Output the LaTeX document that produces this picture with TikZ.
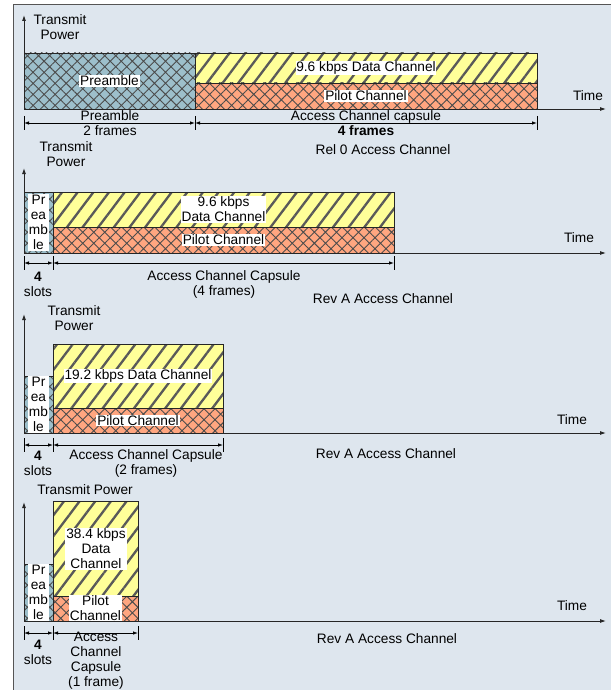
\documentclass[tikz,border=0pt]{standalone}
\usepackage{fontspec}
\setmainfont{Liberation Sans}
\usetikzlibrary{arrows.meta,patterns.meta}

\definecolor{panelbg}{HTML}{DEE6EE}
\definecolor{framegray}{HTML}{555555}
\definecolor{preblue}{HTML}{9DBFCB}
\definecolor{datayellow}{HTML}{FFFF99}
\definecolor{pilotsalmon}{HTML}{FFA680}

\begin{document}
\begin{tikzpicture}[
  x=1pt, y=-1pt,
  font=\fontsize{13.7}{15}\selectfont,
  box/.style={draw=black!85, line width=0.8pt, inner sep=0pt, outer sep=0pt, anchor=north west},
  prebox/.style={box, preaction={fill=preblue}, pattern={Hatch[angle=45,distance=7.8pt,line width=0.9pt]}, pattern color=black!70},
  databox/.style={box, preaction={fill=datayellow}, pattern={Lines[angle=53,distance=12.5pt,line width=2.3pt]}, pattern color=black!65},
  pilotbox/.style={box, preaction={fill=pilotsalmon}, pattern={Hatch[angle=45,distance=7.8pt,line width=0.9pt]}, pattern color=black!70},
  lbl/.style={fill=white, inner sep=0.8pt, align=center},
  txt/.style={align=center, inner sep=0pt},
  axis/.style={-{Latex[length=6pt,width=4pt]}, line width=0.9pt, draw=black!85},
  dim/.style={{Latex[length=5pt,width=3.5pt]}-{Latex[length=5pt,width=3.5pt]}, line width=0.8pt},
  dimtick/.style={line width=0.8pt}
]

\useasboundingbox (0,0) rectangle (610,690);
\fill[white] (0,0) rectangle (610,690);
\draw[draw=framegray, fill=panelbg, line width=1pt] (13,5) rectangle (620,700);

% Rel 0
\node[prebox, minimum width=171, minimum height=56] (pre1) at (24,53) {};
\node[databox, minimum width=342, minimum height=30] (data1) at (195,53) {};
\node[pilotbox, minimum width=342, minimum height=26] (pilot1) at (195,83) {};
\node[lbl] (prelbl1) at (pre1.center) {Preamble};
\node[lbl] (datalbl1) at (data1.center) {9.6 kbps Data Channel};
\node[lbl] (pilotlbl1) at (pilot1.center) {Pilot Channel};

\coordinate (o1) at (24,109);
\coordinate (ytop1) at (24,15);
\coordinate (xend1) at (606,109);
\draw[axis] (o1) -- (ytop1);
\draw[axis] (o1) -- (xend1);
\node[txt] (ylbl1) at (60,27) {Transmit\\Power};
\node[txt] (tlbl1) at (588,96) {Time};

\coordinate (d1a) at (24,123);
\coordinate (d1b) at (195,123);
\coordinate (d1c) at (537,123);
\draw[dimtick] (24,116) -- (24,130);
\draw[dimtick] (195,116) -- (195,130);
\draw[dimtick] (537,116) -- (537,130);
\draw[dim] (d1a) -- (d1b);
\draw[dim] (d1b) -- (d1c);
\node[txt] (dlbl1a) at (110,123) {Preamble\\2 frames};
\node[txt] (dlbl1b) at (366,123) {Access Channel capsule\\\textbf{4 frames}};
\node[txt] (cap1) at (383,150) {Rel 0 Access Channel};

% Rev A, 4 frames
\node[prebox, minimum width=29, minimum height=61] (pre2) at (24,192) {};
\node[databox, minimum width=341, minimum height=35] (data2) at (53,192) {};
\node[pilotbox, minimum width=341, minimum height=26] (pilot2) at (53,227) {};
\node[lbl] (prelbl2) at (pre2.center) {Pr\\ea\\mb\\le};
\node[lbl] (datalbl2) at (data2.center) {9.6 kbps\\Data Channel};
\node[lbl] (pilotlbl2) at (pilot2.center) {Pilot Channel};

\coordinate (o2) at (24,253);
\coordinate (ytop2) at (24,168);
\coordinate (xend2) at (606,253);
\draw[axis] (o2) -- (ytop2);
\draw[axis] (o2) -- (xend2);
\node[txt] (ylbl2) at (66,154) {Transmit\\Power};
\node[txt] (tlbl2) at (579,238) {Time};

\coordinate (d2a) at (24,263);
\coordinate (d2b) at (53,263);
\coordinate (d2c) at (394,263);
\draw[dimtick] (24,256) -- (24,270);
\draw[dimtick] (53,256) -- (53,270);
\draw[dimtick] (394,256) -- (394,270);
\draw[dim] (d2a) -- (d2b);
\draw[dim] (d2b) -- (d2c);
\node[txt] (dlbl2a) at (38,284) {\textbf{4}\\slots};
\node[txt] (dlbl2b) at (224,284) {Access Channel Capsule\\(4 frames)};
\node[txt] (cap2) at (383,299) {Rev A Access Channel};

% Rev A, 2 frames
\node[prebox, minimum width=29, minimum height=57] (pre3) at (24,376) {};
\node[databox, minimum width=170, minimum height=64] (data3) at (53,344) {};
\node[pilotbox, minimum width=170, minimum height=25] (pilot3) at (53,408) {};
\node[lbl] (prelbl3) at (pre3.center) {Pr\\ea\\mb\\le};
\node[lbl] (datalbl3) at (138,376) {19.2 kbps Data Channel};
\node[lbl] (pilotlbl3) at (pilot3.center) {Pilot Channel};

\coordinate (o3) at (24,433);
\coordinate (ytop3) at (24,314);
\coordinate (xend3) at (606,433);
\draw[axis] (o3) -- (ytop3);
\draw[axis] (o3) -- (xend3);
\node[txt] (ylbl3) at (74,318) {Transmit\\Power};
\node[txt] (tlbl3) at (572,420) {Time};

\coordinate (d3a) at (24,445);
\coordinate (d3b) at (53,445);
\coordinate (d3c) at (223,445);
\draw[dimtick] (24,438) -- (24,452);
\draw[dimtick] (53,438) -- (53,452);
\draw[dimtick] (223,438) -- (223,452);
\draw[dim] (d3a) -- (d3b);
\draw[dim] (d3b) -- (d3c);
\node[txt] (dlbl3a) at (38,463) {\textbf{4}\\slots};
\node[txt] (dlbl3b) at (146,463) {Access Channel Capsule\\(2 frames)};
\node[txt] (cap3) at (386,454) {Rev A Access Channel};

% Rev A, 1 frame
\node[prebox, minimum width=29, minimum height=57] (pre4) at (24,564) {};
\node[databox, minimum width=85, minimum height=95] (data4) at (53,501) {};
\node[pilotbox, minimum width=85, minimum height=25] (pilot4) at (53,596) {};
\node[lbl] (prelbl4) at (pre4.center) {Pr\\ea\\mb\\le};
\node[lbl] (datalbl4) at (96,549) {38.4 kbps\\Data\\Channel};
\node[lbl] (pilotlbl4) at (pilot4.center) {Pilot\\Channel};

\coordinate (o4) at (24,621);
\coordinate (ytop4) at (24,502);
\coordinate (xend4) at (606,621);
\draw[axis] (o4) -- (ytop4);
\draw[axis] (o4) -- (xend4);
\node[txt] (ylbl4) at (85,490) {Transmit Power};
\node[txt] (tlbl4) at (572,606) {Time};

\coordinate (d4a) at (24,633);
\coordinate (d4b) at (53,633);
\coordinate (d4c) at (138,633);
\draw[dimtick] (24,626) -- (24,640);
\draw[dimtick] (53,626) -- (53,640);
\draw[dimtick] (138,626) -- (138,640);
\draw[dim] (d4a) -- (d4b);
\draw[dim] (d4b) -- (d4c);
\node[txt] (dlbl4a) at (38,652) {\textbf{4}\\slots};
\node[txt] (dlbl4b) at (96,661) {Access\\Channel\\Capsule\\(1 frame)};
\node[txt] (cap4) at (387,639) {Rev A Access Channel};

\end{tikzpicture}
\end{document}
